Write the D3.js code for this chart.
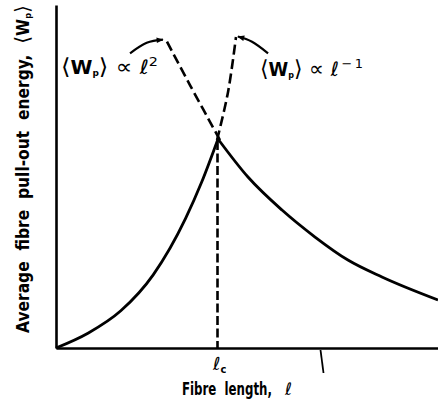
<!DOCTYPE html>
<html><head><meta charset="utf-8">
<script src="https://cdn.jsdelivr.net/npm/d3@7"></script>
<style>
html,body{margin:0;padding:0;background:#fff;}
svg{display:block;}
text{white-space:pre;}
.lbl{font-family:"Liberation Sans Narrow","DejaVu Sans Condensed",sans-serif;font-weight:bold;fill:#000;}
.sym{font-family:"DejaVu Sans",sans-serif;fill:#000;}
</style></head>
<body>
<script>
// Fibre length (in units of critical length l_c) and average pull-out energy (peak = 1)
const riseLength = [0, 0.2, 0.4, 0.6, 0.8, 0.9, 1.0];
const riseEnergy = [0, 0.072, 0.178, 0.350, 0.620, 0.795, 1.0];
const fallLength = [1.0, 1.185, 1.395, 1.599, 1.802, 2.012, 2.358];
const fallEnergy = [1.0, 0.818, 0.660, 0.531, 0.421, 0.340, 0.230];
// dashed extrapolations of each law beyond l_c
const invExtLength = [1.012, 0.827, 0.679];
const invExtEnergy = [0.995, 1.258, 1.474];
const sqExtLength = [0.994, 1.062, 1.111];
const sqExtEnergy = [0.995, 1.225, 1.488];
const criticalLength = [1.0];
// annotation arrows (data units)
const arrowLeftLength = [0.457, 0.56, 0.66];
const arrowLeftEnergy = [1.41, 1.46, 1.475];
const arrowRightLength = [1.309, 1.21, 1.123];
const arrowRightEnergy = [1.41, 1.465, 1.49];
const strayTick = [1.642];

const W = 438, H = 403;
const svg = d3.select("body").append("svg").attr("width", W).attr("height", H);
const defs = svg.append("defs");
defs.append("marker").attr("id","ah").attr("viewBox","0 0 10 10").attr("refX",9).attr("refY",5)
  .attr("markerWidth",9).attr("markerHeight",7).attr("markerUnits","userSpaceOnUse").attr("orient","auto")
  .append("path").attr("d","M0,1 L10,5 L0,9 Z").attr("fill","#000");

const x = d3.scaleLinear().domain([0, 2.358]).range([56, 438]);
const y = d3.scaleLinear().domain([0, 1.641]).range([348, 5]);

const line = d3.line().x(d => x(d[0])).y(d => y(d[1])).curve(d3.curveMonotoneX);
const dline = d3.line().x(d => x(d[0])).y(d => y(d[1])).curve(d3.curveCatmullRom.alpha(0.5));
const zip = (a, b) => a.map((v, i) => [v, b[i]]);

// axes
const xAxis = d3.axisBottom(x).tickValues([]).tickSizeOuter(0);
const gx = svg.append("g").attr("transform", `translate(0,${y(0)})`).call(xAxis);
gx.select(".domain").attr("stroke","#000").attr("stroke-width",2.6);
const yAxis = d3.axisLeft(y).tickValues([]).tickSizeOuter(0);
const gy = svg.append("g").attr("transform", `translate(${x(0)},0)`).call(yAxis);
gy.select(".domain").attr("stroke","#000").attr("stroke-width",2.6);

// stray mark below axis
svg.selectAll(".stray").data(strayTick).enter().append("line")
  .attr("x1", d => x(d) - 1.5).attr("x2", d => x(d) + 1.5)
  .attr("y1", y(0) + 2).attr("y2", y(0) + 25)
  .attr("stroke","#000").attr("stroke-width",1.8);

// solid curves
svg.append("path").attr("d", line(zip(riseLength, riseEnergy)))
  .attr("fill","none").attr("stroke","#000").attr("stroke-width",2.8);
svg.append("path").attr("d", line(zip(fallLength, fallEnergy)))
  .attr("fill","none").attr("stroke","#000").attr("stroke-width",2.8);

// dashed extrapolations
[zip(invExtLength, invExtEnergy), zip(sqExtLength, sqExtEnergy)].forEach(pts => {
  svg.append("path").attr("d", dline(pts)).attr("fill","none").attr("stroke","#000")
    .attr("stroke-width",2.6).attr("stroke-dasharray","10,4.5");
});
// vertical dashed at l_c
svg.selectAll(".vc").data(criticalLength).enter().append("line")
  .attr("x1", d => x(d) - 0.5).attr("x2", d => x(d) - 0.5)
  .attr("y1", y(0.99)).attr("y2", y(0))
  .attr("stroke","#000").attr("stroke-width",2.6).attr("stroke-dasharray","9,3.5");

// arrows
const aline = d3.line().x(d => x(d[0])).y(d => y(d[1])).curve(d3.curveNatural);
[zip(arrowLeftLength, arrowLeftEnergy), zip(arrowRightLength, arrowRightEnergy)].forEach(pts => {
  svg.append("path").attr("d", aline(pts)).attr("fill","none").attr("stroke","#000")
    .attr("stroke-width",2.2).attr("marker-end","url(#ah)");
});

// annotations
function law(xp, yb, exp, len) {
  const t = svg.append("text").attr("x", xp).attr("y", yb)
    .attr("textLength", len).attr("lengthAdjust", "spacingAndGlyphs");
  t.append("tspan").attr("class","sym").attr("font-size",22).text("⟨");
  t.append("tspan").attr("class","lbl").attr("font-size",20).text("W");
  t.append("tspan").attr("class","lbl").attr("font-size",9).attr("dy",2).text("p");
  t.append("tspan").attr("class","sym").attr("font-size",22).attr("dy",-2).text("⟩");
  t.append("tspan").attr("class","sym").attr("font-size",21).text(" ∝ ");
  t.append("tspan").attr("class","sym").attr("font-size",20).attr("font-style","italic").text("ℓ");
  t.append("tspan").attr("class","sym").attr("font-size",13).attr("dy",-8).text(exp);
}
law(61, 74, "2", 97);
law(260, 76, "\u2009\u2212\u20091", 103);

// l_c tick label
const lc = svg.append("text").attr("x", x(1) - 5).attr("y", 370);
lc.append("tspan").attr("class","sym").attr("font-size",18).attr("font-style","italic").text("ℓ");
lc.append("tspan").attr("class","lbl").attr("font-size",11).attr("dy",3).text("c");

// x axis label (horizontally condensed by a scale transform)
const xlt = svg.append("text").attr("class","lbl").attr("font-size",18).text("Fibre  length,");
const natural = xlt.node().getComputedTextLength();
xlt.attr("transform", `translate(182,395) scale(${90 / natural},1)`);
svg.append("text").attr("x", 285).attr("y", 395).attr("class","sym").attr("font-size",17)
  .attr("font-style","italic").text("ℓ");

// y axis label
const yl = svg.append("text").attr("class","lbl").attr("font-size",17)
  .attr("transform","translate(29,333) rotate(-90)")
  .attr("textLength", 328).attr("lengthAdjust","spacingAndGlyphs");
yl.append("tspan").text("Average  fibre  pull-out  energy,  ");
yl.append("tspan").attr("class","sym").attr("font-weight","normal").attr("font-size",20).text("⟨");
yl.append("tspan").text("W");
yl.append("tspan").attr("font-size",9).attr("dy",2).text("p");
yl.append("tspan").attr("class","sym").attr("font-weight","normal").attr("font-size",20).attr("dy",-2).text("⟩");
</script>
</body></html>
